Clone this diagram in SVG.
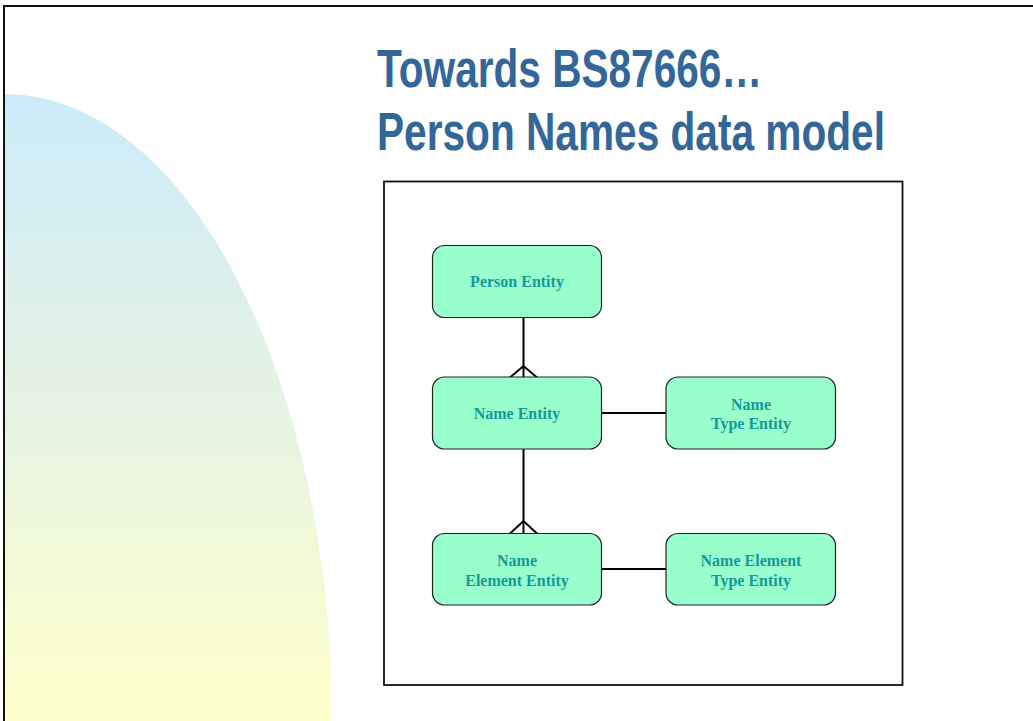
<svg xmlns="http://www.w3.org/2000/svg" width="1033" height="721" viewBox="0 0 1033 721">
<style>
.title{font-family:"Liberation Sans Narrow","Liberation Sans",Arial,sans-serif;font-weight:bold;font-size:54px;fill:#336699}
.box{fill:#99FFCC;stroke:#222;stroke-width:1.2}
.lbl{font-family:"Liberation Serif","Times New Roman",serif;font-weight:bold;font-size:16px;fill:#139A98;text-anchor:middle}
.conn{stroke:#000;stroke-width:2;fill:none}
</style>
<defs>
<linearGradient id="blob" x1="0" y1="94" x2="0" y2="721" gradientUnits="userSpaceOnUse">
<stop offset="0" stop-color="#CCEBFA"/>
<stop offset="0.5" stop-color="#E6F3E3"/>
<stop offset="1" stop-color="#FFFFCC"/>
</linearGradient>
</defs>
<rect x="0" y="0" width="1033" height="721" fill="#fff"/>
<path d="M5,721 L5,94 A327,627 0 0 1 332,721 Z" fill="url(#blob)"/>
<path d="M4,721 L4,6 L1033,6" fill="none" stroke="#111" stroke-width="2"/>
<g id="title">
<text class="title" x="377" y="87" textLength="385" lengthAdjust="spacingAndGlyphs">Towards BS87666…</text>
<text class="title" x="377" y="150" textLength="508" lengthAdjust="spacingAndGlyphs">Person Names data model</text>
</g>
<rect id="frame" x="384" y="181.5" width="518.5" height="503.5" fill="none" stroke="#111" stroke-width="1.8"/>
<g id="connectors">
<path class="conn" d="M523.5,317 L523.5,377"/>
<path class="conn" d="M510,377.5 L523.5,366 L537,377.5"/>
<path class="conn" d="M523.5,449 L523.5,533"/>
<path class="conn" d="M510,533.5 L523.5,521 L537,533.5"/>
<path class="conn" d="M601,413 L666,413"/>
<path class="conn" d="M601,569 L666,569"/>
</g>
<g id="person-entity">
<rect class="box" x="432.5" y="245.5" width="169" height="72" rx="12"/>
<text class="lbl" x="517" y="287">Person Entity</text>
</g>
<g id="name-entity">
<rect class="box" x="432.5" y="377" width="169" height="72" rx="12"/>
<text class="lbl" x="517" y="419">Name Entity</text>
</g>
<g id="name-type-entity">
<rect class="box" x="666" y="377" width="169.5" height="72" rx="12"/>
<text class="lbl" x="751" y="410">Name</text>
<text class="lbl" x="751" y="429">Type Entity</text>
</g>
<g id="name-element-entity">
<rect class="box" x="432.5" y="533.5" width="169" height="71.5" rx="12"/>
<text class="lbl" x="517" y="566">Name</text>
<text class="lbl" x="517" y="585.5">Element Entity</text>
</g>
<g id="name-element-type-entity">
<rect class="box" x="666" y="533.5" width="169.5" height="71.5" rx="12"/>
<text class="lbl" x="751" y="566">Name Element</text>
<text class="lbl" x="751" y="585.5">Type Entity</text>
</g>
</svg>
